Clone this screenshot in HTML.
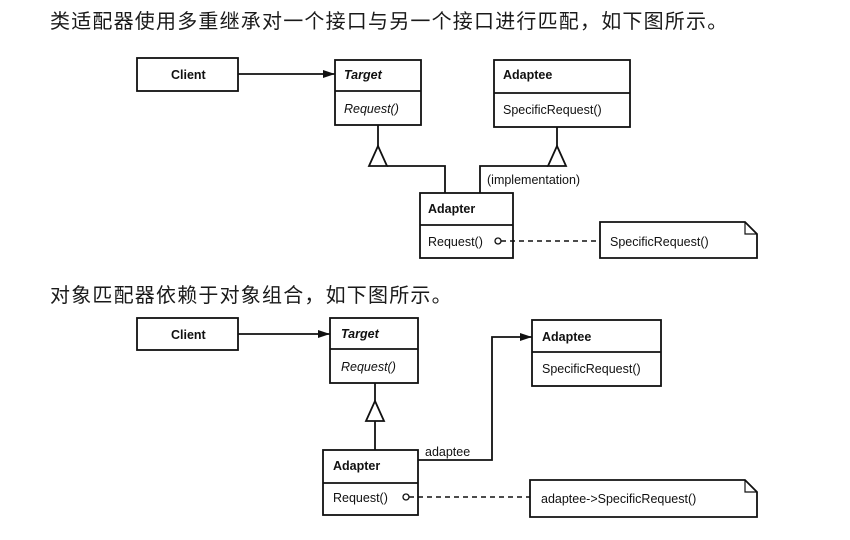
<!DOCTYPE html>
<html><head><meta charset="utf-8"><style>
html,body{margin:0;padding:0;background:#fff;}
body{width:850px;height:540px;overflow:hidden;}
svg{display:block}
.c{font-family:"Liberation Sans","Noto Sans CJK SC",sans-serif;font-size:20px;fill:#1a1a1a;letter-spacing:1.2px}
.t{font-family:"Liberation Sans",sans-serif;font-size:12.5px;fill:#111}
.b{font-weight:bold}
.i{font-style:italic}
</style></head><body>
<svg width="850" height="540" xmlns="http://www.w3.org/2000/svg">
<defs>
<marker id="a" markerWidth="12" markerHeight="8" refX="12" refY="4" orient="auto" markerUnits="userSpaceOnUse"><path d="M0,0 L12,4 L0,8 z" fill="#111"/></marker>
</defs>
<text class="c" x="50" y="28">类适配器使用多重继承对一个接口与另一个接口进行匹配，如下图所示。</text>
<text class="c" x="50" y="302">对象匹配器依赖于对象组合，如下图所示。</text>
<g fill="none" stroke="#111" stroke-width="1.8">
<!-- top diagram -->
<rect x="137" y="58" width="101" height="33"/>
<rect x="335" y="60" width="86" height="65"/><line x1="335" y1="91" x2="421" y2="91"/>
<rect x="494" y="60" width="136" height="67"/><line x1="494" y1="93" x2="630" y2="93"/>
<line x1="238" y1="74" x2="335" y2="74" marker-end="url(#a)"/>
<line x1="378" y1="125" x2="378" y2="146"/>
<path d="M378,146 L369,166 L387,166 z" fill="#fff"/>
<polyline points="387,166 445,166 445,193"/>
<line x1="557" y1="127" x2="557" y2="146"/>
<path d="M557,146 L548,166 L566,166 z" fill="#fff"/>
<polyline points="548,166 480,166 480,193"/>
<rect x="420" y="193" width="93" height="65"/><line x1="420" y1="225" x2="513" y2="225"/>
<circle cx="498" cy="241" r="3" stroke-width="1.3"/>
<line x1="501" y1="241" x2="600" y2="241" stroke-dasharray="5,4" stroke-width="1.4"/>
<path d="M600,222 L745,222 L757,234 L757,258 L600,258 z"/>
<path d="M745,222 L745,234 L757,234" stroke-width="1.2"/>
<!-- bottom diagram -->
<rect x="137" y="318" width="101" height="32"/>
<rect x="330" y="318" width="88" height="65"/><line x1="330" y1="349" x2="418" y2="349"/>
<rect x="532" y="320" width="129" height="66"/><line x1="532" y1="352" x2="661" y2="352"/>
<line x1="238" y1="334" x2="330" y2="334" marker-end="url(#a)"/>
<line x1="375" y1="383" x2="375" y2="401"/>
<path d="M375,401 L366,421 L384,421 z" fill="#fff"/>
<line x1="375" y1="421" x2="375" y2="450"/>
<rect x="323" y="450" width="95" height="65"/><line x1="323" y1="483" x2="418" y2="483"/>
<polyline points="418,460 492,460 492,337 532,337" marker-end="url(#a)"/>
<circle cx="406" cy="497" r="3" stroke-width="1.3"/>
<line x1="409" y1="497" x2="530" y2="497" stroke-dasharray="5,4" stroke-width="1.4"/>
<path d="M530,480 L745,480 L757,492 L757,517 L530,517 z"/>
<path d="M745,480 L745,492 L757,492" stroke-width="1.2"/>
</g>
<text class="t b" x="171" y="79">Client</text>
<text class="t b i" x="344" y="79">Target</text>
<text class="t i" x="344" y="113">Request()</text>
<text class="t b" x="503" y="79">Adaptee</text>
<text class="t" x="503" y="114">SpecificRequest()</text>
<text class="t" x="487" y="184">(implementation)</text>
<text class="t b" x="428" y="213">Adapter</text>
<text class="t" x="428" y="246">Request()</text>
<text class="t" x="610" y="246">SpecificRequest()</text>
<text class="t b" x="171" y="339">Client</text>
<text class="t b i" x="341" y="338">Target</text>
<text class="t i" x="341" y="371">Request()</text>
<text class="t b" x="542" y="341">Adaptee</text>
<text class="t" x="542" y="373">SpecificRequest()</text>
<text class="t" x="425" y="456">adaptee</text>
<text class="t b" x="333" y="470">Adapter</text>
<text class="t" x="333" y="502">Request()</text>
<text class="t" x="541" y="503">adaptee-&gt;SpecificRequest()</text>
</svg>
</body></html>
